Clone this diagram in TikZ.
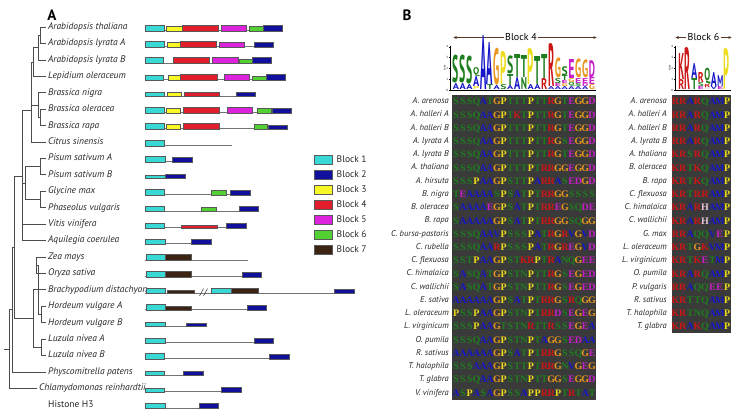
\documentclass[tikz,border=0pt]{standalone}
\usepackage{fontspec}
\usepackage{graphicx}
\setmainfont{Liberation Serif}
\setsansfont{PT Sans}
\usetikzlibrary{arrows.meta,positioning,calc}

% block colours
\definecolor{blk1}{HTML}{38D9D4}
\definecolor{blk2}{HTML}{10109C}
\definecolor{blk3}{HTML}{F8F826}
\definecolor{blk4}{HTML}{E21E2C}
\definecolor{blk5}{HTML}{DC22DC}
\definecolor{blk6}{HTML}{52D232}
\definecolor{blk7}{HTML}{3C2414}
\definecolor{alnbg}{HTML}{3A3A3A}
\definecolor{spanbrown}{HTML}{5A3A28}
% residue colours
\definecolor{resS}{HTML}{1E7E1E}
\colorlet{resT}{resS}\colorlet{resQ}{resS}\colorlet{resN}{resS}\colorlet{resC}{resS}
\definecolor{resA}{HTML}{1616C8}
\colorlet{resV}{resA}\colorlet{resM}{resA}\colorlet{resI}{resA}\colorlet{resL}{resA}
\definecolor{resG}{HTML}{E8961E}
\definecolor{resP}{HTML}{EEDC1E}
\definecolor{resR}{HTML}{CC1616}
\colorlet{resK}{resR}
\definecolor{resE}{HTML}{C81EC8}
\colorlet{resD}{resE}
\definecolor{resH}{HTML}{E6C6D8}

\tikzset{
  treeline/.style={line width=0.6pt, draw=black!70},
  intron/.style={line width=0.7pt, draw=black!55},
  exon/.style={draw=black!65, line width=0.45pt},
  spname/.style={anchor=west, inner sep=2pt, text=black!85, font=\sffamily\itshape\fontsize{9.5}{10}\selectfont, text height=7pt, text depth=2pt},
  legtext/.style={anchor=west, inner sep=0pt, text=black!85, font=\sffamily\fontsize{9.5}{10}\selectfont},
  panel/.style={inner sep=0pt, font=\sffamily\bfseries\fontsize{15}{15}\selectfont},
}

% one aligned sequence, one letter per column
\newlength\resw
\def\seqline#1{\seqloop#1\relax}
\def\seqloop#1{\ifx#1\relax\else\makebox[\resw]{\textcolor{res#1}{#1}}\expandafter\seqloop\fi}

\begin{document}
\begin{tikzpicture}[x=1pt, y=-1pt,
  alnname/.style={anchor=east, inner sep=0pt, text=black!85, font=\sffamily\itshape\fontsize{8.5}{9}\selectfont, text height=6pt, text depth=1.5pt},
  alnseq/.style={anchor=west, inner sep=0pt, font=\rmfamily\bfseries\fontsize{10}{10}\selectfont, text height=6.8pt, text depth=0pt},
  logolet/.style={anchor=south, inner sep=0pt, font=\sffamily\bfseries},
  blkhead/.style={inner sep=1.5pt, font=\sffamily\fontsize{10}{10}\selectfont},
  spanarr/.style={-{Latex[length=3.5pt,width=3pt]}, draw=spanbrown, line width=0.6pt},
  logoaxis/.style={draw=black, line width=0.4pt},
  tinylab/.style={inner sep=0.4pt, font=\sffamily\fontsize{3}{3}\selectfont},
]
  \useasboundingbox (0,0) rectangle (745,412);

  % ---------------- panel A ----------------
  \node[panel] (pA) at (52,15) {A};

  % species names
  \foreach \nm [count=\i from 0] in {Arabidopsis thaliana, Arabidopsis lyrata A,
      Arabidopsis lyrata B, Lepidium oleraceum, Brassica nigra, Brassica oleracea,
      Brassica rapa, Citrus sinensis, Pisum sativum A, Pisum sativum B, Glycine max,
      Phaseolus vulgaris, Vitis vinifera, Aquilegia coerulea, Zea mays, Oryza sativa,
      Brachypodium distachyon, Hordeum vulgare A, Hordeum vulgare B, Luzula nivea A,
      Luzula nivea B, Physcomitrella patens}
    \node[spname] (sp\i) at (46,{27+16.42*\i}) {\nm};
  \node[spname] (sp22) at (37,388.2) {Chlamydomonas reinhardtii};
  \node[spname, font=\sffamily\fontsize{9.5}{10}\selectfont] (sp23) at (46,404.7) {Histone H3};

  % tree
  \coordinate (nAt) at (40,35.2);
  \coordinate (nAr) at (38,47.5);
  \coordinate (nAL) at (33,61.9);
  \coordinate (nBo) at (40,117.3);
  \coordinate (nBr) at (38,105);
  \coordinate (nBC) at (31,110);
  \coordinate (nPi) at (40,166.6);
  \coordinate (nGP) at (40,199.4);
  \coordinate (nLeg) at (25,183);
  \coordinate (nEu) at (22,176);
  \coordinate (nZO) at (36,265.1);
  \coordinate (nHo) at (41,314.4);
  \coordinate (nPo) at (38,289.7);
  \coordinate (nLu) at (41,347.2);
  \coordinate (nMo) at (33,318);
  \coordinate (nAn) at (14,247);
  \coordinate (nLa) at (12,309.4);
  \coordinate (nRt) at (9,348.8);
  \coordinate (root) at (4,348.8);
  \foreach \p/\c in {nAt/sp0.west, nAt/sp1.west, nAr/nAt, nAr/sp2.west, nAL/nAr,
      nAL/sp3.west, nBo/sp5.west, nBo/sp6.west, nBr/sp4.west, nBr/nBo, nBC/nAL,
      nBC/nBr, nBC/sp7.west, nPi/sp8.west, nPi/sp9.west, nGP/sp10.west,
      nGP/sp11.west, nLeg/nPi, nLeg/nGP, nEu/nBC, nEu/nLeg, nEu/sp12.west,
      nEu/sp13.west, nZO/sp14.west, nZO/sp15.west, nHo/sp17.west, nHo/sp18.west,
      nPo/nZO, nPo/sp16.west, nPo/nHo, nLu/sp19.west, nLu/sp20.west, nMo/nPo,
      nMo/nLu, nAn/nEu, nAn/nMo, nLa/nAn, nLa/sp21.west, nRt/nLa, nRt/sp22.west}
    \draw[treeline] (\p) |- (\c);
  \draw[treeline] (root) -- (nRt);

  % gene structures: row / end of line / {start/end/block/height}
  \foreach \r/\lend/\boxes in {
    0/282/{145/164.7/1/6,166.7/182/3/5,182.7/218.3/4/6,221/246.7/5/6,249.7/263/6/4.5,263/282/2/6},
    1/273.7/{145/164/1/6,167/180/3/5,180.3/216.3/4/6,219.3/244.7/5/5,254/273.7/2/5},
    2/271.7/{145/163.3/1/6,173.7/209.3/4/6,212.3/238.3/5/6,239.3/252.7/6/4.5,252.7/271.7/2/6},
    3/285/{145/163.3/1/4.5,168.7/180/3/4.5,180.3/217.7/4/6,224.3/249.3/5/6,252.3/266/6/4,266/285/2/6},
    4/255.7/{145/164.7/1/4.5,167/181.7/3/4,184/219.7/4/4,236.7/255.7/2/4},
    5/291.7/{145/164.3/1/6,166.3/180.7/3/5,183.7/219.3/4/6,227.3/252.7/5/6,257.3/271.7/6/5,272.7/291.7/2/4.5},
    6/287.7/{145/164.3/1/6,166.3/180.7/3/5,183.7/219.3/4/6,254.3/267/6/5,268.3/287.7/2/4.5},
    7/232/{145/164.3/1/6},
    8/192/{145/165/1/6,172.7/192/2/4.5},
    9/185/{145/165.3/1/3.5,165.3/185/2/4},
    10/250/{145/164.7/1/6,211/226/6/4.5,230.7/250/2/4.5},
    11/258.7/{145/164.7/1/5,201.7/216.7/6/4.5,239.3/258.7/2/5},
    12/246/{145/164.7/1/5,181.7/217.3/4/3,226.7/246/2/5},
    13/211/{145/165/1/5,191.7/211/2/5},
    14/247.7/{146/165/1/6,165/191.7/7/6},
    15/261.3/{146/165/1/6,165/191.7/7/6,242/261.3/2/5},
    16/354.3/{146/165.3/1/5,167.7/194.3/7/3,211.3/231/1/5,231.7/258.7/7/5,334.7/354.3/2/4},
    17/266.3/{146/165/1/6,165/191.7/7/4,247/266.3/2/5},
    18/206/{145/165.3/1/4.5,186.7/206/2/3.5},
    19/273.7/{145/165/1/5,254.3/273.7/2/5},
    20/289.3/{145/164.3/1/6,269.7/289.3/2/5},
    21/203/{145/164.3/1/4.5,183.3/203/2/4},
    22/241.3/{145/164.3/1/3.5,221.7/241.3/2/5},
    23/218.3/{145/165/1/5,199/218.3/2/5}}{
    \pgfmathsetmacro\ry{27+16.42*\r}
    \draw[intron] (145,\ry+3.3) -- (\lend,\ry+3.3);
    \foreach \xa/\xb/\cn/\hh in \boxes
      \filldraw[exon, fill=blk\cn] (\xa,\ry+3.8-\hh) rectangle (\xb,\ry+3.8);
  }
  % break in the Brachypodium line
  \draw[line width=0.6pt, draw=black!70] (199.5,296) -- (203.5,288.5) (203.5,296) -- (207.5,288.5);

  % legend
  \foreach \k in {1,...,7}{
    \pgfmathsetmacro\ly{159.5+15*(\k-1)}
    \filldraw[exon, line width=0.6pt, fill=blk\k] (314,\ly-4.5) rectangle (332,\ly+4.5);
    \node[legtext] (leg\k) at (336.5,\ly) {Block \k};
  }

  % ---------------- panel B ----------------
  \node[panel] (pB) at (407,15) {B};

  % Block 4
  \node[blkhead] (h4) at (521,37.5) {Block 4};
  \coordinate (h4l) at (453,37.5);
  \coordinate (h4r) at (597,37.5);
  \draw[spanarr] (h4.west) -- (h4l);
  \draw[spanarr] (h4.east) -- (h4r);

  % logo, Block 4
  \draw[logoaxis] (450.5,46) -- (450.5,90) -- (596,90);
  \foreach \t in {0,...,4}{
    \draw[logoaxis] (450.5,90-10.8*\t) -- ++(-1.5,0);
    \node[tinylab, anchor=east] (axf\t) at (448.5,90-10.8*\t) {\t};
  }
  \node[tinylab, rotate=90] (bitsf) at (444.5,68) {bits};
  \foreach \stack [count=\i] in {{A/6,S/28},{A/6,S/28},{A/5,S/28},{P/3,A/10,Q/9},{A/54},
      {T/5,A/42},{A/4,G/37},{S/5,P/33},{A/4,T/11,S/18},{A/12,T/23},{N/12,T/22},
      {A/5,P/36},{A/5,T/28},{R/11,T/24},{A/3,R/43},{A/3,E/3,S/5,G/20},
      {A/3,G/3,E/3,T/5,S/9},{A/3,Q/4,G/4,E/19},{A/3,S/3,E/5,G/19},
      {A/3,D/3,E/5,G/18},{G/5,E/7,D/17}}{
    \pgfmathsetmacro\cx{452.5+6.8*(\i-0.5)}
    \xdef\yb{89.5}
    \foreach \L/\h [count=\j] in \stack{
      \node[logolet, text=res\L] (lf\i-\j) at (\cx,\yb) {\resizebox*{6.2pt}{\h pt}{\L}};
      \pgfmathsetmacro\ynew{\yb-\h}
      \xdef\yb{\ynew}
    }
  }

  % alignment, Block 4
  \fill[alnbg] (452,95) rectangle (595.5,399.5);
  \setlength\resw{6.8pt}
  \foreach \nm/\sq [count=\i from 0] in {A. arenosa/SSSQATGPTTTPTTRGTEGGD,
      A. halleri A/SSSQAAGPTKTPTTRGTEGGD, A. halleri B/SSSQAAGPTTTPTTRGTEGGD,
      A. lyrata A/SSSQAAGPTTTPTTRGSEGGD, A. lyrata B/SSSQAAGPTTTPTTRGTEGGD,
      A. thaliana/SSSQAAGPTTTPTRRGGEGGD, A. hirsuta/SSSPAAGPSTTPARRASEDGD,
      B. nigra/TEAAAASPSATPTRRGGSSSS, B. oleracea/SAAAAEGPSATPTRREGSQDE,
      B. rapa/SAAAAAGPSATPTRRGGSQGG, C. bursa-pastoris/SSSQAAVPSSSPATRGRVGVD,
      C. rubella/SSSQAARPSSSPATRGREGVD, C. flexuosa/SSTPAAGPSTKRPTRANQGEE,
      C. himalaica/SASQATGPSTNPTTRGSEGED, C. wallichii/SASQATGPSTNPTTRGSEGED,
      E. sativa/AAAAAAGPSATPTRRGSRQGG, L. oleraceum/PSSPAAGPSTNPTRRDSEGEG,
      L. virginicum/SSSPAAGTSTNRTTRSSEGEA, O. pumila/SSSQAAGPSTNPTAGGSEDAA,
      R. sativus/AAAAAAGPSATPTRRGSSQGE, T. halophila/SSSAAAGPSTTPTRRGNVGEG,
      T. glabra/SSSQAAGPSTNPTTGGSEGGD, V. vinifera/ASPASAGPSSAPPRRPTRTAT}{
    \pgfmathsetmacro\ry{101.5+13.24*\i}
    \node[alnname] (fn\i) at (449,\ry) {\nm};
    \node[alnseq] (fs\i) at (452.5,\ry) {\expandafter\seqline\expandafter{\sq}};
  }

  % Block 6
  \node[blkhead] (h6) at (703.5,37.5) {Block 6};
  \coordinate (h6l) at (675,37.5);
  \coordinate (h6r) at (732,37.5);
  \draw[spanarr] (h6.west) -- (h6l);
  \draw[spanarr] (h6.east) -- (h6r);

  % logo, Block 6
  \draw[logoaxis] (675.5,46) -- (675.5,90) -- (731,90);
  \foreach \t in {0,...,4}{
    \draw[logoaxis] (675.5,90-10.8*\t) -- ++(-1.5,0);
    \node[tinylab, anchor=east] (axs\t) at (673.5,90-10.8*\t) {\t};
  }
  \node[tinylab, rotate=90] (bitss) at (669.5,68) {bits};
  \foreach \stack [count=\i] in {{R/10,K/26},{R/42},{T/11,A/15},{E/3,S/4,R/10},
      {H/2,R/3,Q/16},{V/3,A/14},{E/3,M/11},{P/41}}{
    \pgfmathsetmacro\cx{678+6.5*(\i-0.5)}
    \xdef\yb{89.5}
    \foreach \L/\h [count=\j] in \stack{
      \node[logolet, text=res\L] (ls\i-\j) at (\cx,\yb) {\resizebox*{5.9pt}{\h pt}{\L}};
      \pgfmathsetmacro\ynew{\yb-\h}
      \xdef\yb{\ynew}
    }
  }

  % alignment, Block 6
  \fill[alnbg] (671.5,95) rectangle (731,333);
  \setlength\resw{7.4pt}
  \foreach \nm/\sq [count=\i from 0] in {A. arenosa/RRARQAMP, A. halleri A/RRARQAMP,
      A. halleri B/RRARQAMP, A. lyrata B/RRARQAMP, A. thaliana/KRSRQAMP,
      B. oleracea/KRTKQAMP, B. rapa/KRTKQAMP, C. flexuosa/KRTRRAMP,
      C. himalaica/KRARHAMP, C. wallichii/KRARHAMP, G. max/RRAQQVEP,
      L. oleraceum/KRTGKVMP, L. virginicum/KRTKETMP, O. pumila/KRARQAMP,
      P. vulgaris/RRAQQEEP, R. sativus/KRTTQAMP, T. halophila/KRTNQAMP,
      T. glabra/KRAKQAMP}{
    \pgfmathsetmacro\ry{101.5+13.24*\i}
    \node[alnname] (sn\i) at (667,\ry) {\nm};
    \node[alnseq] (ss\i) at (671.5,\ry) {\expandafter\seqline\expandafter{\sq}};
  }
\end{tikzpicture}
\end{document}
